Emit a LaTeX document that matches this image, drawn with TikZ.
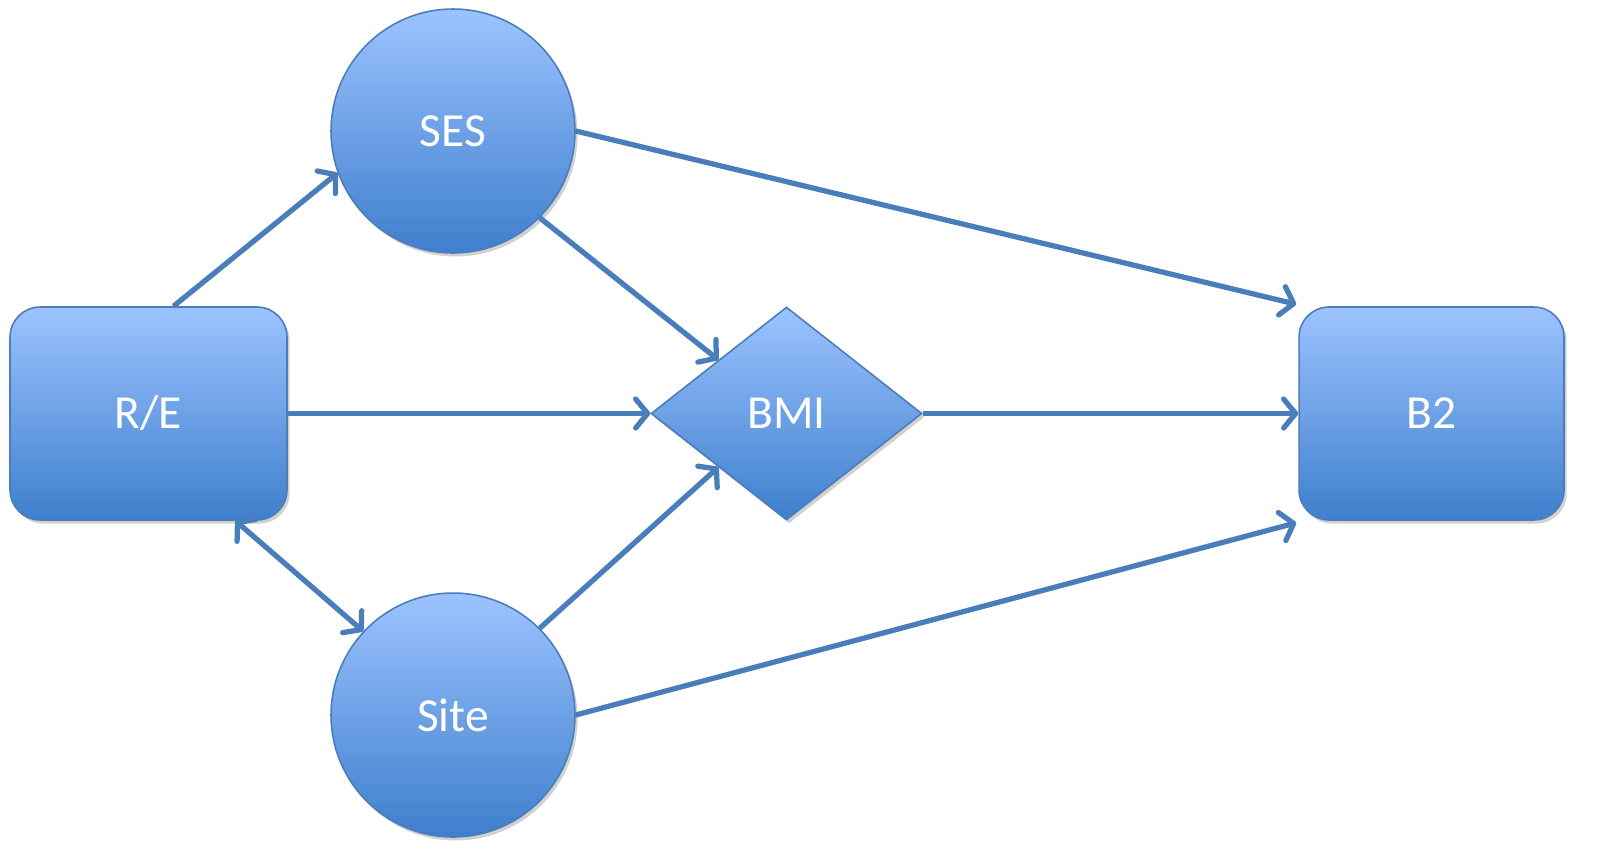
\documentclass[tikz,border=0pt]{standalone}
\usepackage{fontspec}
\setmainfont{Carlito}
\usetikzlibrary{shapes.geometric,arrows.meta,shadows,calc}
\definecolor{topc}{HTML}{9CC3FF}
\definecolor{botc}{HTML}{3F7FCD}
\definecolor{edgec}{HTML}{4A7EBB}
\definecolor{arrc}{HTML}{4A7EBB}
\tikzset{
  base/.style={draw=edgec, line width=0.9pt, top color=topc, bottom color=botc,
    text=white, font=\fontsize{27}{31}\selectfont, inner sep=0pt,
    drop shadow={shadow xshift=1.5pt, shadow yshift=-2pt, opacity=0.18, fill=black}},
  roundbox/.style={base, rectangle, rounded corners=0.6cm},
  circ/.style={base, circle, minimum size=4.88cm},
  dia/.style={base, diamond, minimum width=5.42cm, minimum height=4.26cm},
  tipb/.tip={Straight Barb[length=0.24cm,width=0.58cm,line cap=round,line join=round]},
  conn/.style={draw=arrc, line width=3pt, -tipb},
  bconn/.style={draw=arrc, line width=3pt, tipb-tipb}
}
\begin{document}
\begin{tikzpicture}[x=0.02cm,y=-0.02cm]
\node[roundbox, minimum width=5.54cm, minimum height=4.26cm] (re) at (148.5,413.5) {R/E};
\node[circ] (ses) at (453,131) {SES};
\node[circ] (site) at (453,715) {Site};
\node[dia] (bmi) at (786.5,413.5) {BMI};
\node[roundbox, minimum width=5.3cm, minimum height=4.26cm] (b2) at (1431.5,413.5) {B2};

\draw[conn] ($(re.north)+(25,0)$) -- (ses.200);
\draw[conn] (ses.-45) -- (bmi.north west);
\draw[conn] (re.east) -- (bmi.west);
\draw[conn] (site.45) -- (bmi.south west);
\draw[conn] (ses.east) -- ($(b2.north west)+(-2,-2)$);
\draw[conn] (bmi.east) -- (b2.west);
\draw[conn] (site.east) -- ($(b2.south west)+(-2,2)$);
\draw[bconn] ($(re.south)+(87,0)$) -- (site.137);
\pgfresetboundingbox
\useasboundingbox (0,0) rectangle (1601,849);
\end{tikzpicture}
\end{document}
